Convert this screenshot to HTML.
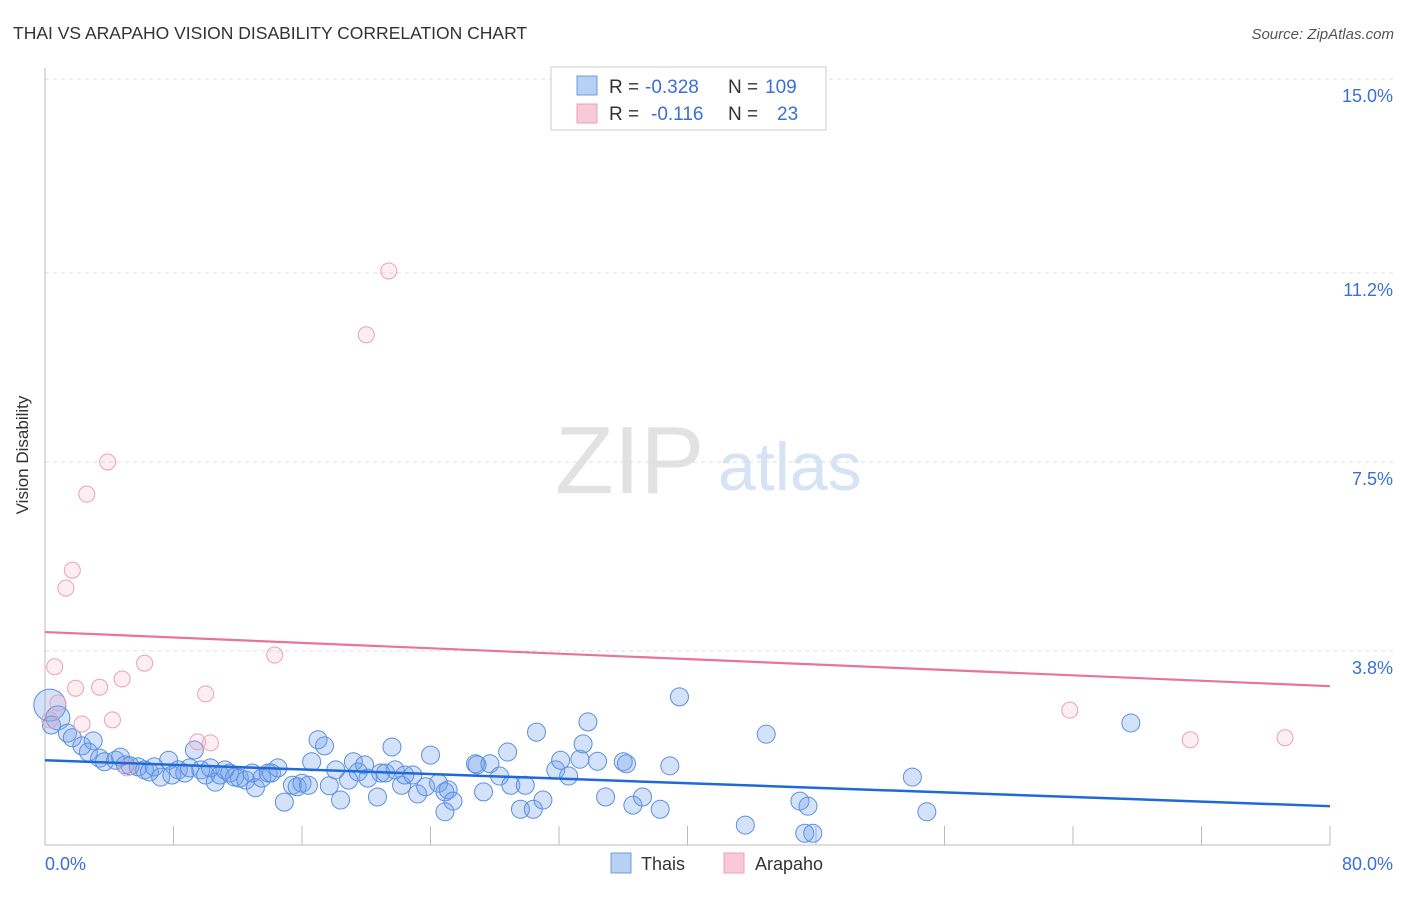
<!DOCTYPE html>
<html><head><meta charset="utf-8"><style>
body{margin:0;background:#fff;font-family:"Liberation Sans",sans-serif;}
svg text{font-family:"Liberation Sans",sans-serif;}
</style></head><body>
<svg width="1406" height="892" viewBox="0 0 1406 892">
<text x="13" y="39" font-size="17.5" fill="#333">THAI VS ARAPAHO VISION DISABILITY CORRELATION CHART</text>
<text x="1394" y="39" font-size="15" fill="#555" font-style="italic" text-anchor="end">Source: ZipAtlas.com</text>
<text x="555" y="493" font-size="96" fill="#e2e2e2" font-family="Liberation Serif, serif">ZIP</text>
<text x="718" y="490" font-size="68" fill="#d6e3f5">atlas</text>
<g id="grid"></g>
<line x1="45" y1="68" x2="45" y2="845" stroke="#bbb"/>
<line x1="45" y1="845" x2="1330" y2="845" stroke="#bbb"/>
<g id="xticks"></g>
<text x="28" y="455" font-size="17" fill="#333" text-anchor="middle" transform="rotate(-90 28 455)">Vision Disability</text>
<text x="45" y="870" font-size="18" fill="#3a6fd8">0.0%</text>
<text x="1393" y="870" font-size="18" fill="#3a6fd8" text-anchor="end">80.0%</text>
<g id="pts"></g>
<g id="trends"></g>
<g>
<rect x="551" y="67" width="275" height="63" fill="#fff" stroke="#ccc"/>
<rect x="577" y="76" width="20" height="19" fill="#b6d0f3" stroke="#6d9be0"/>
<rect x="577" y="104" width="20" height="19" fill="#f8c9d6" stroke="#ec9fb6"/>
<text x="609" y="93" font-size="19" fill="#333">R =</text>
<text x="645" y="93" font-size="19" fill="#3a6fd8">-0.328</text>
<text x="728" y="93" font-size="19" fill="#333">N =</text>
<text x="765" y="93" font-size="19" fill="#3a6fd8">109</text>
<text x="609" y="120" font-size="19" fill="#333">R =</text>
<text x="651" y="120" font-size="19" fill="#3a6fd8">-0.116</text>
<text x="728" y="120" font-size="19" fill="#333">N =</text>
<text x="777" y="120" font-size="19" fill="#3a6fd8">23</text>
</g>
<g><rect x="611" y="853" width="20" height="20" fill="#b6d0f3" stroke="#6d9be0"/><text x="641" y="870" font-size="18" fill="#333">Thais</text></g>
<g><rect x="724" y="853" width="20" height="20" fill="#f8c9d6" stroke="#ec9fb6"/><text x="755" y="870" font-size="18" fill="#333">Arapaho</text></g>
</svg>
<script>
const yTicks=[3.8,7.5,11.2,15.0];
const yTickLabels=["3.8%","7.5%","11.2%","15.0%"];
const xTicks=[8,16,24,32,40,48,56,64,72,80];
const thaiX=[0.3,0.8,0.4,1.4,1.7,2.3,3.0,2.7,3.4,3.7,4.4,4.7,5.0,5.3,5.8,6.2,6.5,6.8,7.2,7.7,7.9,8.3,8.7,9.0,9.3,9.7,10.0,10.3,10.6,10.9,11.2,11.5,11.8,12.1,12.5,12.9,13.1,13.5,13.9,14.1,14.5,14.9,15.4,15.7,16.0,16.4,16.6,17.0,17.4,17.7,18.1,18.4,18.9,19.2,19.5,19.9,20.1,20.7,20.9,21.2,21.6,21.8,22.2,22.4,22.9,23.2,23.7,24.0,24.5,24.9,25.1,25.4,24.9,26.8,26.9,27.3,27.7,28.3,28.8,29.0,29.6,29.9,30.4,30.6,31.0,31.8,32.1,32.6,33.3,33.5,33.8,34.4,34.9,36.0,36.2,36.6,37.2,38.3,38.9,39.5,43.6,44.9,47.0,47.5,47.3,47.8,54.0,54.9,67.6];
const thaiY=[2.74,2.49,2.35,2.19,2.10,1.94,2.04,1.82,1.70,1.63,1.66,1.72,1.57,1.55,1.53,1.47,1.43,1.53,1.33,1.66,1.37,1.47,1.41,1.51,1.86,1.47,1.37,1.51,1.23,1.37,1.47,1.41,1.33,1.31,1.27,1.41,1.12,1.31,1.41,1.41,1.51,0.84,1.17,1.14,1.21,1.17,1.63,2.06,1.94,1.16,1.47,0.88,1.27,1.63,1.43,1.57,1.31,0.94,1.41,1.41,1.92,1.47,1.17,1.37,1.37,1.00,1.14,1.76,1.21,1.04,1.08,0.86,0.65,1.59,1.57,1.04,1.59,1.35,1.82,1.17,0.70,1.17,0.70,2.21,0.88,1.47,1.66,1.35,1.68,1.98,2.41,1.64,0.94,1.63,1.59,0.78,0.94,0.70,1.55,2.90,0.39,2.17,0.86,0.76,0.23,0.23,1.33,0.65,2.39];
const thaiR=[16,12];
const arapahoX=[0.6,0.8,0.3,1.7,1.3,2.6,3.9,1.9,2.3,3.4,4.2,4.8,6.2,5.1,9.5,10.0,10.3,14.3,20.0,21.4,63.8,71.3,77.2];
const arapahoY=[3.49,2.78,2.45,5.38,5.03,6.87,7.50,3.07,2.37,3.09,2.45,3.25,3.56,1.51,2.02,2.96,2.00,3.72,9.99,11.24,2.64,2.06,2.10];
const thaiTrend=[1.66,0.76];
const arapahoTrend=[4.17,3.11];
const NS="http://www.w3.org/2000/svg";
const sx=v=>45+v*(1285/80);
const sy=v=>845-v*51.07;
function mk(tag,attrs,parent){const e=document.createElementNS(NS,tag);for(const k in attrs)e.setAttribute(k,attrs[k]);parent.appendChild(e);return e;}
const grid=document.getElementById('grid');
yTicks.forEach((t,i)=>{
 const l=mk('line',{x1:45,x2:1394,y1:sy(t),y2:sy(t),stroke:'#ddd','stroke-dasharray':'4,4'},grid);
 
 
 const tx=mk('text',{x:1393,y:sy(t)+23,'font-size':18,fill:'#3a6fd8','text-anchor':'end'},grid);
 tx.textContent=yTickLabels[i];
 
 
});
const xt=document.getElementById('xticks');
xTicks.forEach(t=>{
 const l=mk('line',{x1:sx(t),x2:sx(t),y1:826,y2:845,stroke:'#bbb'},xt);
 
 
});
const pts=document.getElementById('pts');
thaiX.forEach((x,i)=>{
 const c=mk('circle',{cx:sx(x),cy:sy(thaiY[i]),r:thaiR[i]||9,fill:'rgba(110,160,235,0.3)',stroke:'#5b8fe0','stroke-width':1},pts);
 
 
});
arapahoX.forEach((x,i)=>{
 const c=mk('circle',{cx:sx(x),cy:sy(arapahoY[i]),r:8,fill:'rgba(245,170,195,0.2)',stroke:'#eba0b8','stroke-width':1},pts);
 
 
});
const tr=document.getElementById('trends');
const t1=mk('line',{x1:sx(0),y1:sy(thaiTrend[0]),x2:sx(80),y2:sy(thaiTrend[1]),stroke:'#1f6ad6','stroke-width':2.5},tr);


const t2=mk('line',{x1:sx(0),y1:sy(arapahoTrend[0]),x2:sx(80),y2:sy(arapahoTrend[1]),stroke:'#e8739b','stroke-width':2.2},tr);


</script>
</body></html>
